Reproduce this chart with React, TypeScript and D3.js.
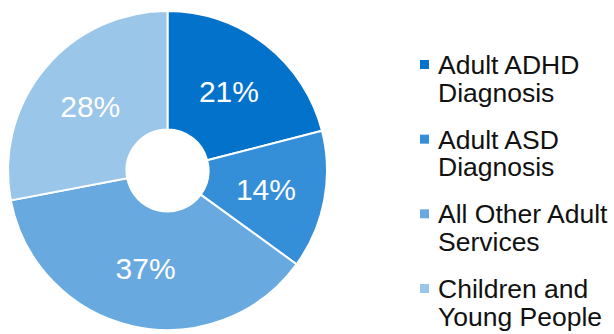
import React from "react";
import * as d3 from "d3";

const categories = ["Adult ADHD Diagnosis", "Adult ASD Diagnosis", "All Other Adult Services", "Children and Young People"];
const legendLines = [["Adult ADHD", "Diagnosis"], ["Adult ASD", "Diagnosis"], ["All Other Adult", "Services"], ["Children and", "Young People"]];
const values = [21, 14, 37, 28];
const colors = ["#0372CB", "#358ED8", "#68A9E0", "#9AC6EA"];

const W = 614, H = 334;
const cx = 167.5, cy = 170.5, R = 159.5, r0 = 41;

export default function App() {
  const pie = d3.pie<number>().sort(null).value((d) => d);
  const arcs = pie(values);
  const arc = d3.arc<d3.PieArcDatum<number>>().innerRadius(r0).outerRadius(R);
  const font = "'Liberation Sans', Arial, sans-serif";
  const legendY = d3.scalePoint<string>().domain(categories).range([74, 298]);
  return (
    <svg width={W} height={H} style={{ position: "absolute", left: 0, top: 0 }}>
      <g transform={`translate(${cx},${cy})`}>
        {arcs.map((a, i) => (
          <path key={i} d={arc(a) || ""} fill={colors[i]} stroke="#fff" strokeWidth={2} strokeLinejoin="miter" />
        ))}
        {arcs.map((a, i) => {
          const [x, y] = arc.centroid(a);
          return (
            <text key={i} x={x} y={y + 10.5} textAnchor="middle" fill="#fff" fontFamily={font} fontSize={30}>
              {values[i]}%
            </text>
          );
        })}
      </g>
      {categories.map((c, i) => {
        const y = legendY(c)!;
        return (
          <g key={c}>
            <rect x={420} y={y - 14} width={9} height={9} fill={colors[i]} />
            {legendLines[i].map((t, j) => (
              <text key={j} x={438} y={y + j * 27.5} fontFamily={font} fontSize={26.5} fill="#111">
                {t}
              </text>
            ))}
          </g>
        );
      })}
    </svg>
  );
}
